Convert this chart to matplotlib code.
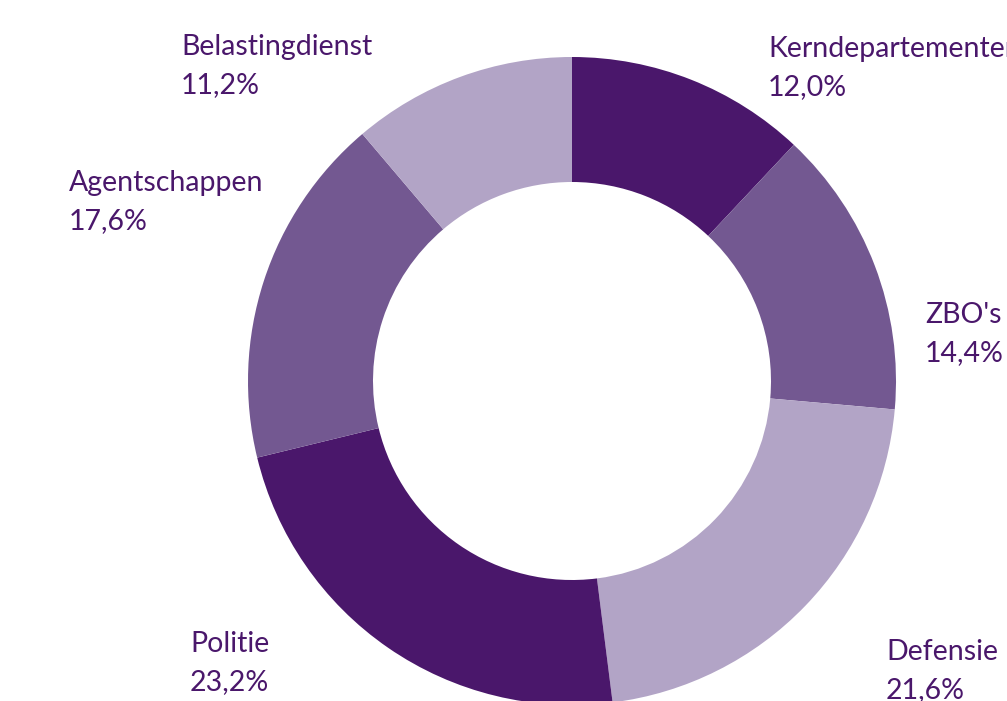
import matplotlib.pyplot as plt

labels = ['Kerndepartementen', "ZBO's", 'Defensie', 'Politie', 'Agentschappen', 'Belastingdienst']
values = [12.0, 14.4, 21.6, 23.2, 17.6, 11.2]
pct_labels = ['12,0%', '14,4%', '21,6%', '23,2%', '17,6%', '11,2%']
colors = ['#4a176b', '#735891', '#b2a4c6', '#4a176b', '#735891', '#b2a4c6']

# label anchor (left x, baseline y of first line) in pixels from top-left
label_pos = [(768, 57), (925, 323), (886, 660), (190, 652), (69, 191), (181, 55)]

W, H = 1007, 701
fig = plt.figure(figsize=(W / 100, H / 100), dpi=100)
ax = fig.add_axes([0, 0, 1, 1])

cx, cy, R = 572, H - 381, 324
ax.pie(values, colors=colors, startangle=90, counterclock=False,
       center=(cx, cy), radius=R, frame=True,
       wedgeprops=dict(width=125, linewidth=0))
ax.set_xlim(0, W)
ax.set_ylim(0, H)
ax.axis('off')

txt_color = '#4a176b'
for name, pct, (x, y) in zip(labels, pct_labels, label_pos):
    ax.text(x, H - y, name, color=txt_color, fontsize=20.5, family='Lato',
            ha='left', va='baseline')
    ax.text(x, H - y - 38, pct, color=txt_color, fontsize=20.5, family='Lato',
            ha='left', va='baseline')

fig.savefig('out.png', dpi=100)
